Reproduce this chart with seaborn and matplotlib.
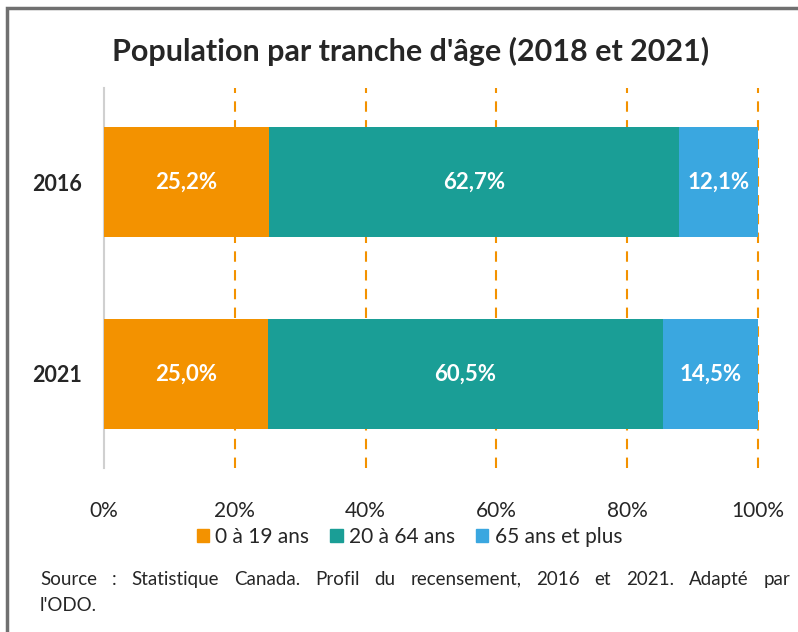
import pandas as pd
import matplotlib.pyplot as plt
import seaborn as sns
from matplotlib.patches import Patch, Rectangle

# Data
years = ["2016", "2021"]
groups = ["0 à 19 ans", "20 à 64 ans", "65 ans et plus"]
jeunes = [25.2, 25.0]
adultes = [62.7, 60.5]
aines = [12.1, 14.5]
colors = ["#F39200", "#1A9E96", "#3AA7E0"]
source_line1 = "Source : Statistique Canada. Profil du recensement, 2016 et 2021. Adapté par"
source_line2 = "l'ODO."

df = pd.DataFrame({"annee": years, groups[0]: jeunes, groups[1]: adultes, groups[2]: aines})

sns.set_style("white")
plt.rcParams['font.family'] = ['Lato', 'DejaVu Sans']

fig = plt.figure(figsize=(7.98, 6.32), dpi=100)
ax = fig.add_axes([0.1303, 0.2595, 0.8197, 0.6013])

# stacked bars: draw cumulative totals from the largest down
cum = df[groups].cumsum(axis=1)
for i in reversed(range(len(groups))):
    sns.barplot(x=cum[groups[i]], y=df["annee"], color=colors[i], orient="h",
                width=0.57, ax=ax, zorder=3, saturation=1, linewidth=0)

# value labels
for row in range(len(years)):
    start = 0
    for g in groups:
        v = df.loc[row, g]
        ax.text(start + v / 2, row, f"{v:.1f}%".replace(".", ","), ha="center", va="center",
                color="white", fontsize=16, fontweight="bold", zorder=4)
        start += v

ax.set_xlim(0, 100)
ax.set_ylim(1.49, -0.49)
ax.set_xticks([0, 20, 40, 60, 80, 100])
ax.set_xticklabels(["0%", "20%", "40%", "60%", "80%", "100%"], fontsize=15)
ax.set_yticks(range(len(years)))
ax.set_yticklabels(years, fontsize=15.5, fontweight="bold")
ax.tick_params(axis="x", length=0, pad=24)
ax.tick_params(axis="y", length=0, pad=16)
ax.set_xlabel("")
ax.set_ylabel("")

for x in [20, 40, 60, 80, 100]:
    ax.axvline(x, color="#F39200", lw=1.5, ls=(0, (5, 4)), zorder=1, clip_on=False)

for s in ["top", "right", "bottom"]:
    ax.spines[s].set_visible(False)
ax.spines["left"].set_color("#D0D0D0")
ax.spines["left"].set_linewidth(1.5)

fig.text(0.515, 0.918, "Population par tranche d'âge (2018 et 2021)", ha="center", va="center",
         fontsize=22, fontweight="bold")

handles = [Patch(color=c, label=g) for c, g in zip(colors, groups)]
fig.legend(handles=handles, loc="center", bbox_to_anchor=(0.513, 0.15), ncol=3, frameon=False,
           fontsize=15, handlelength=0.6, handleheight=0.6, handletextpad=0.3, columnspacing=1.0)

# justified source line
renderer = fig.canvas.get_renderer()
words = source_line1.split(" ")
x_left, x_right = 40 / 798, 790 / 798
texts = [fig.text(0, 0.075, w, ha="left", va="baseline", fontsize=13.5) for w in words]
widths = [t.get_window_extent(renderer).width / fig.bbox.width for t in texts]
gap = (x_right - x_left - sum(widths)) / (len(words) - 1)
pos = x_left
for t, w in zip(texts, widths):
    t.set_x(pos)
    pos += w + gap
fig.text(x_left, 0.034, source_line2, ha="left", va="baseline", fontsize=13.5)

# outer frame
fig.patches.append(Rectangle((0.009, -0.05), 1.05, 1.037, transform=fig.transFigure,
                             fill=False, edgecolor="#707070", lw=2.5))

fig.savefig("out.png", dpi=100)
